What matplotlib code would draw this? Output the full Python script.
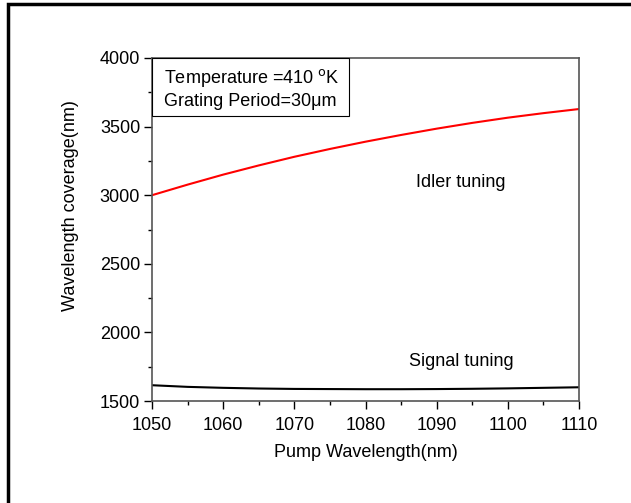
import numpy as np
import matplotlib
matplotlib.use('Agg')
from matplotlib import pyplot as plt
from matplotlib.ticker import MultipleLocator

plt.rcParams['font.family'] = ['Liberation Sans', 'DejaVu Sans']

pump = [1050, 1055, 1060, 1065, 1070, 1075, 1080, 1085, 1090, 1095, 1100, 1105, 1110]
idler = [3000, 3077, 3150, 3217, 3280, 3337, 3390, 3439, 3485, 3527, 3565, 3598, 3628]
signal = [1615, 1603, 1596, 1591, 1588, 1587, 1586, 1586, 1587, 1589, 1592, 1596, 1600]

fig = plt.figure(figsize=(6.31, 5.03), dpi=100)
ax = fig.add_axes([152 / 631, 1 - 401 / 503, 427 / 631, 343 / 503])

ax.plot(pump, idler, color='red', lw=1.5)
ax.plot(pump, signal, color='black', lw=1.5)

ax.set_xlim(1050, 1110)
ax.set_ylim(1500, 4000)
ax.xaxis.set_major_locator(MultipleLocator(10))
ax.xaxis.set_minor_locator(MultipleLocator(5))
ax.yaxis.set_major_locator(MultipleLocator(500))
ax.yaxis.set_minor_locator(MultipleLocator(250))
ax.tick_params(which='both', direction='out', labelsize=13, top=False, right=False,
               color='black', width=1)
ax.tick_params(which='major', length=5.5, pad=3)
ax.tick_params(which='minor', length=3)
ax.tick_params(axis='x', which='major', pad=6)
for s in ax.spines.values():
    s.set_color('#555555')
    s.set_linewidth(1.2)

ax.set_xlabel('Pump Wavelength(nm)', fontsize=13)
ax.xaxis.set_label_coords(0.5, -0.125)
ax.set_ylabel('Wavelength coverage(nm)', fontsize=13)
ax.yaxis.set_label_coords(-0.171, 0.57)

ax.text(1087.1, 3060, 'Idler tuning', fontsize=13, va='baseline')
ax.text(1086.1, 1755, 'Signal tuning', fontsize=13, va='baseline')

# info box in the top left corner
ax.add_patch(plt.Rectangle((0, 0.831), 0.461, 0.169, transform=ax.transAxes,
                           fc='white', ec='black', lw=0.8, zorder=3))
ax.text(0.028, 0.927, 'Temperature =410 $^{\\mathrm{o}}$K', transform=ax.transAxes,
        fontsize=13, va='baseline', zorder=4)
ax.text(0.028, 0.860, 'Grating Period=30\u03bcm', transform=ax.transAxes,
        fontsize=13, va='baseline', zorder=4)

# outer frame
fig.patches.append(plt.Rectangle((8 / 631, -0.1), 1.2, 1 - 4 / 503 + 0.1, transform=fig.transFigure,
                                 fill=False, ec='black', lw=2.5))

fig.savefig('out.png', dpi=100)
